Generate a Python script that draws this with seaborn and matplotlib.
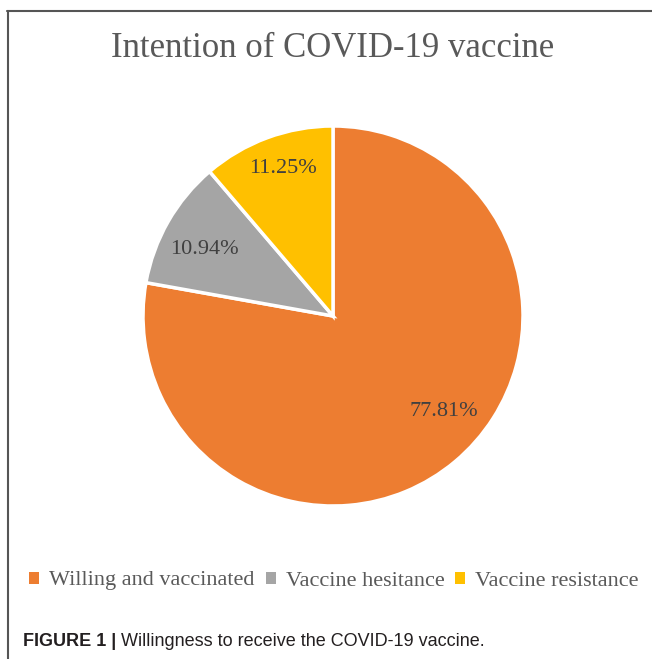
import matplotlib
matplotlib.use("Agg")
import numpy as np
import matplotlib.pyplot as plt
import seaborn as sns
from matplotlib.lines import Line2D
from matplotlib.patches import Patch

categories = ["Willing and vaccinated", "Vaccine hesitance", "Vaccine resistance"]
values = [77.81, 10.94, 11.25]
colors = ["#ED7D31", "#A5A5A5", "#FFC000"]
title = "Intention of COVID-19 vaccine"
caption_bold = "FIGURE 1 |"
caption_rest = " Willingness to receive the COVID-19 vaccine."

sns.set_theme(style="white")
plt.rcParams["font.family"] = ["Liberation Serif", "DejaVu Serif"]

W, H = 652, 659
fig = plt.figure(figsize=(W / 100, H / 100), dpi=100)
fig.patch.set_facecolor("white")

def fx(x):
    return x / W

def fy(y):
    return 1 - y / H

# pie axes
cx, cy, r = 333, 316, 190
ax = fig.add_axes([fx(cx - r), fy(cy + r), 2 * r / W, 2 * r / H])
wedges, texts, autotexts = ax.pie(
    values, colors=colors, startangle=90, counterclock=False,
    autopct="%.2f%%", pctdistance=0.78,
    wedgeprops=dict(edgecolor="white", linewidth=2.5),
    textprops=dict(fontsize=16, color="#404040"),
)
# label placement within each wedge (fraction along the wedge, radial distance)
label_frac = [0.466, 0.44, 0.54]
label_dist = [0.77, 0.765, 0.82]
for w, t, f, d in zip(wedges, autotexts, label_frac, label_dist):
    ang = np.deg2rad(w.theta2 - f * (w.theta2 - w.theta1))
    t.set_position((d * np.cos(ang), d * np.sin(ang)))
ax.set_xlim(-1, 1)
ax.set_ylim(-1, 1)
ax.set_aspect("equal")
ax.axis("off")

# title
fig.text(fx(cx), fy(57), title, ha="center", va="baseline", fontsize=25, color="#595959")

# legend
handles = [Patch(facecolor=c, edgecolor="none") for c in colors]
fig.legend(handles, categories, loc="center", bbox_to_anchor=(fx(334), fy(581)), ncol=3,
           frameon=False, fontsize=16, handlelength=0.45, handleheight=0.45,
           handletextpad=0.45, columnspacing=0.5, labelcolor="#595959",
           borderpad=0, borderaxespad=0)

# border lines
fig.add_artist(Line2D([fx(7), fx(652)], [fy(11), fy(11)], transform=fig.transFigure,
                      color="#555555", lw=1.5))
fig.add_artist(Line2D([fx(7.5), fx(7.5)], [fy(11), fy(659)], transform=fig.transFigure,
                      color="#555555", lw=1.5))

# caption
t1 = fig.text(fx(23), fy(646), caption_bold, ha="left", va="baseline", fontsize=13,
              fontweight="bold", family="Liberation Sans", color="#231F20")
fig.canvas.draw()
bb = t1.get_window_extent()
fig.text(bb.x1 / W, fy(646), caption_rest, ha="left", va="baseline", fontsize=13,
         family="Liberation Sans", color="#231F20")

fig.savefig("out.png", dpi=100)
